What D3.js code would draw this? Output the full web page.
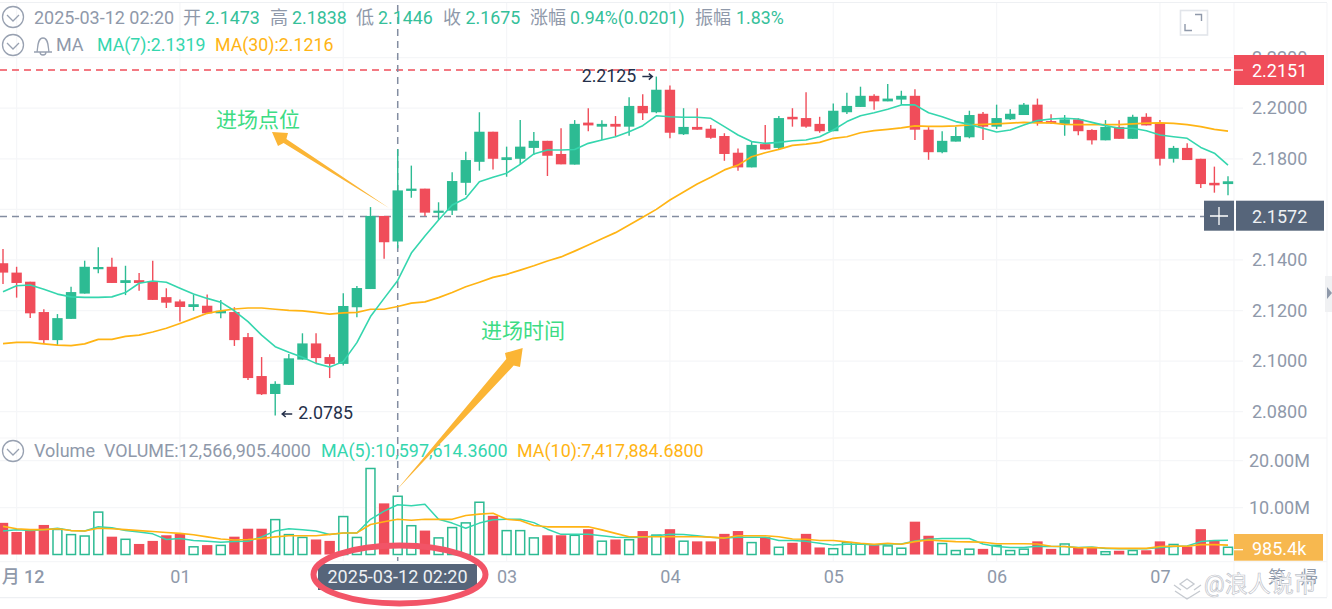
<!DOCTYPE html>
<html lang="zh">
<head>
  <meta charset="UTF-8">
  <title>K线图</title>
  <script src="https://d3js.org/d3.v7.min.js"></script>
  <style>
    html, body { margin: 0; padding: 0; background: #fff; overflow: hidden; }
    svg { display: block; }
    text { font-family: Roboto, "Noto Sans CJK SC", sans-serif; }
    .axis path, .axis line { display: none; }
    .axis text { font-family: Roboto, "Noto Sans CJK SC", sans-serif; font-size: 18px; fill: #8f99aa; }
  </style>
</head>
<body>
<div id="chart"></div>
<script>
  // candles, 5 min each
  const opens = [2.1387,2.1350,2.1314,2.1194,2.1083,2.1167,2.1267,2.1368,2.1373,2.1309,2.1320,2.1316,2.1253,2.1236,2.1214,2.1219,2.1189,2.1194,2.1095,2.0941,2.0870,2.0906,2.1006,2.1070,2.1016,2.0989,2.1213,2.1285,2.1574,2.1473,2.1673,2.1682,2.1587,2.1595,2.1705,2.1788,2.1907,2.1795,2.1800,2.1843,2.1871,2.1819,2.1777,2.1943,2.1927,2.1938,2.1927,2.2009,2.1984,2.2073,2.1897,2.1926,2.1919,2.1890,2.1824,2.1766,2.1858,2.1843,2.1966,2.1961,2.1938,2.1909,2.1984,2.2005,2.2049,2.2027,2.2034,2.2049,2.1915,2.1826,2.1868,2.1885,2.1978,2.1927,2.1956,2.1973,2.2014,2.1949,2.1938,2.1956,2.1914,2.1873,2.1926,2.1879,2.1966,2.1938,2.1800,2.1843,2.1800,2.1705,2.1700];
  const highs = [2.1443,2.1373,2.1314,2.1205,2.1186,2.1294,2.1397,2.1450,2.1409,2.1377,2.1348,2.1397,2.1288,2.1244,2.1263,2.1263,2.1242,2.1213,2.1111,2.1016,2.0920,2.1028,2.1110,2.1110,2.1027,2.1268,2.1297,2.1609,2.1574,2.1838,2.1773,2.1682,2.1628,2.1747,2.1828,2.1984,2.1907,2.1848,2.1953,2.1906,2.1871,2.1921,2.1953,2.2000,2.1952,2.1969,2.2043,2.2055,2.2125,2.2090,2.2000,2.2000,2.1934,2.1901,2.1841,2.1870,2.1934,2.1969,2.2000,2.2063,2.1966,2.2019,2.2061,2.2085,2.2055,2.2096,2.2069,2.2075,2.1925,2.1909,2.1927,2.1990,2.1985,2.2014,2.1996,2.2021,2.2038,2.1976,2.1973,2.1960,2.1917,2.1953,2.1952,2.1974,2.1980,2.1953,2.1851,2.1861,2.1800,2.1769,2.1731];
  const lows = [2.1305,2.1251,2.1170,2.1070,2.1064,2.1167,2.1267,2.1347,2.1309,2.1261,2.1278,2.1242,2.1210,2.1157,2.1199,2.1189,2.1169,2.1060,2.0925,2.0866,2.0785,2.0906,2.1006,2.0991,2.0933,2.0983,2.1173,2.1285,2.1405,2.1446,2.1646,2.1574,2.1558,2.1578,2.1657,2.1753,2.1758,2.1729,2.1775,2.1815,2.1732,2.1778,2.1777,2.1909,2.1874,2.1890,2.1891,2.1953,2.1980,2.1881,2.1894,2.1915,2.1879,2.1792,2.1753,2.1766,2.1837,2.1837,2.1927,2.1923,2.1903,2.1909,2.1977,2.2005,2.1994,2.2027,2.2013,2.1874,2.1796,2.1822,2.1868,2.1881,2.1874,2.1918,2.1953,2.1973,2.1931,2.1938,2.1891,2.1893,2.1856,2.1873,2.1879,2.1879,2.1932,2.1773,2.1785,2.1795,2.1684,2.1666,2.1656];
  const closes = [2.1350,2.1309,2.1189,2.1083,2.1170,2.1273,2.1373,2.1372,2.1309,2.1320,2.1309,2.1242,2.1231,2.1214,2.1225,2.1189,2.1199,2.1083,2.0933,2.0869,2.0910,2.1011,2.1070,2.1012,2.0989,2.1218,2.1289,2.1574,2.1470,2.1675,2.1682,2.1587,2.1595,2.1712,2.1795,2.1907,2.1800,2.1806,2.1848,2.1871,2.1812,2.1778,2.1938,2.1932,2.1938,2.1927,2.2009,2.1980,2.2073,2.1903,2.1926,2.1915,2.1883,2.1819,2.1766,2.1855,2.1837,2.1961,2.1956,2.1927,2.1909,2.1990,2.2009,2.2049,2.2027,2.2038,2.2049,2.1915,2.1826,2.1871,2.1890,2.1973,2.1927,2.1961,2.1978,2.2014,2.1944,2.1944,2.1956,2.1909,2.1873,2.1926,2.1879,2.1966,2.1932,2.1800,2.1843,2.1795,2.1700,2.1695,2.1711];

  const ma7 = [2.1274,2.1298,2.1301,2.1284,2.1265,2.1254,2.1252,2.1252,2.1254,2.1271,2.1308,2.1317,2.1312,2.1288,2.1265,2.1248,2.1233,2.1199,2.1156,2.1103,2.1057,2.1035,2.1015,2.0991,2.0977,2.0998,2.1073,2.1176,2.1248,2.1319,2.1427,2.1495,2.1558,2.1617,2.1644,2.1709,2.1727,2.1743,2.1778,2.1819,2.1835,2.1835,2.1837,2.1861,2.1874,2.1887,2.1907,2.1931,2.1970,2.1966,2.1964,2.1964,2.1960,2.1927,2.1894,2.1868,2.1861,2.1865,2.1871,2.1874,2.1887,2.1914,2.1947,2.1970,2.1982,2.1996,2.2013,2.2013,2.1982,2.1966,2.1947,2.1936,2.1921,2.1906,2.1914,2.1934,2.1951,2.1957,2.1960,2.1957,2.1944,2.1931,2.1921,2.1921,2.1911,2.1894,2.1887,2.1881,2.1845,2.1822,2.1775];
  const ma30 = [2.1069,2.1074,2.1074,2.1068,2.1063,2.1061,2.1068,2.1086,2.1086,2.1098,2.1103,2.1115,2.1130,2.1149,2.1169,2.1189,2.1199,2.1206,2.1210,2.1210,2.1205,2.1201,2.1199,2.1193,2.1186,2.1191,2.1193,2.1205,2.1205,2.1216,2.1229,2.1234,2.1251,2.1271,2.1294,2.1312,2.1331,2.1343,2.1360,2.1377,2.1396,2.1412,2.1435,2.1459,2.1484,2.1508,2.1538,2.1569,2.1600,2.1637,2.1669,2.1700,2.1727,2.1756,2.1775,2.1808,2.1824,2.1837,2.1853,2.1858,2.1865,2.1881,2.1887,2.1903,2.1911,2.1916,2.1922,2.1930,2.1928,2.1928,2.1930,2.1934,2.1936,2.1938,2.1941,2.1944,2.1942,2.1942,2.1936,2.1935,2.1935,2.1935,2.1935,2.1938,2.1941,2.1942,2.1940,2.1935,2.1927,2.1916,2.1909];

  // volume in millions
  const volumes = [6.75,4.8,5.3,6.3,5.5,4.4,4.1,9.2,3.8,3.4,2.25,2.9,4.1,4.4,1.8,2.0,2.1,3.8,5.5,5.5,7.6,4.4,3.8,3.2,2.9,8.25,3.8,18.5,10.9,12.57,6.3,5.1,3.7,5.9,6.9,11.3,8.25,5.25,5.25,3.7,4.1,4.1,4.25,5.4,3.0,3.2,3.3,5.0,4.3,5.4,3.0,2.8,2.8,4.4,5.0,2.7,3.7,1.7,2.5,4.4,1.5,1.4,2.7,2.4,2.0,2.0,1.5,7.0,4.0,2.5,1.0,1.3,1.2,2.1,1.0,1.3,2.8,1.2,2.4,1.5,1.6,0.75,0.8,1.0,0.9,2.8,2.3,1.7,5.4,3.1,1.7];
  const volMa5 = [5.0,5.3,5.1,5.3,5.6,5.1,5.0,5.9,5.7,5.1,4.8,4.4,3.2,3.4,3.0,2.8,2.6,2.75,2.8,3.75,5.0,5.5,5.3,5.0,4.25,4.6,4.6,7.5,9.25,10.6,10.4,10.7,7.5,6.7,5.6,6.7,7.4,7.5,7.5,6.8,5.4,4.3,4.3,4.3,4.0,3.7,3.6,3.7,4.0,4.3,4.25,4.0,3.7,3.5,3.7,3.7,3.7,3.0,3.0,2.8,2.4,2.0,2.2,2.25,2.0,2.25,2.25,2.9,3.25,3.4,3.4,3.4,2.25,1.7,1.5,1.5,1.75,1.7,1.7,1.5,1.6,1.3,1.2,1.2,1.25,1.5,1.7,1.8,2.75,3.0,3.05];
  const volMa10 = [6.0,5.5,5.3,5.3,5.5,5.1,5.0,5.6,5.5,5.3,5.1,4.9,4.7,4.5,4.2,3.75,3.3,3.1,3.2,3.4,3.75,4.0,4.0,4.0,4.3,4.6,4.6,6.4,7.0,7.5,7.3,7.5,7.5,7.5,8.3,8.6,8.8,7.5,7.25,6.2,5.9,5.9,5.9,5.9,5.25,4.5,3.8,3.8,3.8,3.8,3.8,3.8,3.7,3.5,4.0,4.0,4.0,3.8,3.3,3.25,3.0,3.0,2.7,2.4,2.2,2.4,2.2,2.75,3.1,2.9,2.75,2.7,2.6,2.3,2.3,2.3,2.25,1.75,1.7,1.45,1.5,1.4,1.3,1.3,1.3,1.7,1.8,1.75,2.1,2.1,2.0];

  const priceTicks = [2.08,2.10,2.12,2.14,2.16,2.18,2.20,2.22];
  const volumeTicks = [10,20];
  const timeTickIdx = [1,13,25,37,49,61,73,85];
  // "02" sits behind the time tag in the picture, so it gets no text
  const timeLabels = ["月 12","01","","03","04","05","06","07"];

  const GREEN = "#2dbb93", RED = "#f04d5a", TEAL = "#35d6ae", ORANGE = "#ffb414",
        GRAY = "#8f99aa", SLATE = "#56657a", GRID = "#f5f6f8";
  const hoverIdx = 29, highIdx = 48, lowIdx = 20;
  const width = 1332, height = 609;

  const x = d3.scaleLinear().domain([0, 90]).range([3, 1228]);
  const yP = d3.scaleLinear().domain([2.08, 2.20]).range([411.7, 108.2]);
  const yV = d3.scaleLinear().domain([0, 20]).range([554.5, 460.7]);
  const barW = 10.4;

  const svg = d3.select("#chart").append("svg")
    .attr("width", width)
    .attr("height", height);

  // frame + grid
  const grid = svg.append("g").attr("stroke", GRID).attr("stroke-width", 1.2);
  [2.5, 438, 561.7, 597.7].forEach(v => {
    grid.append("line").attr("x1", 0).attr("x2", 1327).attr("y1", v).attr("y2", v)
      .attr("stroke", v === 2.5 || v === 597.7 ? "#eef0f3" : GRID);
  });
  priceTicks.forEach(t => {
    grid.append("line").attr("x1", 0).attr("x2", 1243).attr("y1", yP(t)).attr("y2", yP(t));
  });
  volumeTicks.forEach(t => {
    grid.append("line").attr("x1", 0).attr("x2", 1243).attr("y1", yV(t)).attr("y2", yV(t));
  });
  timeTickIdx.forEach(i => {
    grid.append("line").attr("x1", x(i)).attr("x2", x(i)).attr("y1", 3).attr("y2", 561);
  });
  grid.append("line").attr("x1", 1234).attr("x2", 1234).attr("y1", 3).attr("y2", 597);
  grid.append("line").attr("x1", 1327).attr("x2", 1327).attr("y1", 3).attr("y2", 597);

  // axes
  svg.append("g").attr("class", "axis")
    .attr("transform", "translate(1252,0)")
    .call(d3.axisRight(yP).tickValues(priceTicks).tickSize(0).tickPadding(0).tickFormat(d3.format(".4f")));
  svg.append("g").attr("class", "axis")
    .attr("transform", "translate(1249,0)")
    .call(d3.axisRight(yV).tickValues(volumeTicks).tickSize(0).tickPadding(0).tickFormat(d => d.toFixed(2) + "M"));
  const timeAxis = svg.append("g").attr("class", "axis")
    .attr("transform", "translate(0,570)")
    .call(d3.axisBottom(x).tickValues(timeTickIdx).tickSize(0).tickPadding(0).tickFormat((d, i) => timeLabels[i]));
  timeAxis.selectAll("text").filter((d, i) => i === 0)
    .style("font-weight", 500)
    .attr("dx", 6);

  // crosshair and last price lines
  const lastPrice = 2.2151, crossPrice = 2.1572;
  svg.append("line")
    .attr("x1", 0).attr("x2", 1234).attr("y1", yP(lastPrice)).attr("y2", yP(lastPrice))
    .attr("stroke", RED).attr("stroke-width", 1.5).attr("stroke-dasharray", "7,5");
  svg.append("line")
    .attr("x1", 0).attr("x2", 1204).attr("y1", yP(crossPrice)).attr("y2", yP(crossPrice))
    .attr("stroke", "#838da1").attr("stroke-width", 1.5).attr("stroke-dasharray", "7,5");
  svg.append("line")
    .attr("x1", x(hoverIdx)).attr("x2", x(hoverIdx)).attr("y1", 5).attr("y2", 561)
    .attr("stroke", "#838da1").attr("stroke-width", 1.5).attr("stroke-dasharray", "7,5");

  // volume bars
  svg.append("g").selectAll("rect")
    .data(volumes)
    .enter()
    .append("rect")
    .attr("x", (d, i) => x(i) - barW / 2 + (closes[i] >= opens[i] ? 0.75 : 0))
    .attr("y", (d, i) => yV(d) + (closes[i] >= opens[i] ? 0.75 : 0))
    .attr("width", (d, i) => barW - (closes[i] >= opens[i] ? 1.5 : 0))
    .attr("height", (d, i) => yV(0) - yV(d) - (closes[i] >= opens[i] ? 0.75 : 0))
    .attr("fill", (d, i) => closes[i] >= opens[i] ? "#fff" : RED)
    .attr("stroke", (d, i) => closes[i] >= opens[i] ? GREEN : "none")
    .attr("stroke-width", 1.5);

  const lineOf = (scale, values, color, w) => {
    const line = d3.line().x((d, i) => x(i)).y(d => scale(d));
    svg.append("path")
      .datum(values)
      .attr("fill", "none")
      .attr("stroke", color)
      .attr("stroke-width", w)
      .attr("stroke-linejoin", "round")
      .attr("d", line);
  };
  lineOf(yV, volMa5, TEAL, 1.5);
  lineOf(yV, volMa10, ORANGE, 1.6);

  // candles
  const candles = svg.append("g").selectAll("g")
    .data(opens)
    .enter()
    .append("g");
  candles.append("line")
    .attr("x1", (d, i) => x(i)).attr("x2", (d, i) => x(i))
    .attr("y1", (d, i) => yP(highs[i])).attr("y2", (d, i) => yP(lows[i]))
    .attr("stroke", (d, i) => closes[i] >= opens[i] ? GREEN : RED)
    .attr("stroke-width", 1.4);
  candles.append("rect")
    .attr("x", (d, i) => x(i) - barW / 2)
    .attr("y", (d, i) => yP(Math.max(opens[i], closes[i])))
    .attr("width", barW)
    .attr("height", (d, i) => Math.max(2.2, Math.abs(yP(opens[i]) - yP(closes[i]))))
    .attr("fill", (d, i) => closes[i] >= opens[i] ? GREEN : RED);

  lineOf(yP, ma30, ORANGE, 1.7);
  lineOf(yP, ma7, TEAL, 1.6);

  // high / low marks
  const label = (px, py, str, color, size, anchor, extra) => {
    const t = svg.append("text")
      .attr("x", px).attr("y", py)
      .attr("fill", color)
      .attr("font-size", size)
      .attr("text-anchor", anchor || "start")
      .text(str);
    if (extra) extra(t);
    return t;
  };
  const markArrow = (x0, x1, py) => svg.append("path")
    .attr("d", `M${x0},${py}H${x1}M${x1 + (x1 > x0 ? -3.5 : 3.5)},${py - 3}L${x1},${py}L${x1 + (x1 > x0 ? -3.5 : 3.5)},${py + 3}`)
    .attr("fill", "none").attr("stroke", "#25304a").attr("stroke-width", 1.5);
  label(x(highIdx) - 20, yP(highs[highIdx]) + 5.5, "2.2125", "#25304a", 17.8, "end");
  markArrow(x(highIdx) - 14, x(highIdx) - 4, yP(highs[highIdx]));
  label(x(lowIdx) + 23, yP(lows[lowIdx]) + 4, "2.0785", "#25304a", 17.8);
  markArrow(x(lowIdx) + 17, x(lowIdx) + 7, yP(lows[lowIdx]) - 1.5);

  // price tags
  const tag = (x0, x1, y0, y1, fill) => svg.append("rect")
    .attr("x", x0).attr("y", y0).attr("width", x1 - x0).attr("height", y1 - y0).attr("fill", fill);
  tag(1234, 1324, yP(lastPrice) - 15, yP(lastPrice) + 15, RED);
  svg.append("line").attr("x1", 1234).attr("x2", 1243).attr("y1", yP(lastPrice)).attr("y2", yP(lastPrice)).attr("stroke", "#fff").attr("stroke-width", 1.2);
  label(1252, yP(lastPrice) + 6.5, "2.2151", "#fff", 18);

  tag(1204, 1234, 200.7, 230.7, SLATE);
  tag(1236, 1324, 200.7, 230.7, SLATE);
  svg.append("path").attr("d", "M1210,216H1228M1219,207V225").attr("stroke", "#fff").attr("stroke-width", 1.3).attr("fill", "none");
  label(1252, 222.5, "2.1572", "#eef1f4", 18);

  tag(1234, 1323, 534, 560.7, "#f7b84f");
  svg.append("line").attr("x1", 1234).attr("x2", 1243).attr("y1", 549.7).attr("y2", 549.7).attr("stroke", "#fff").attr("stroke-width", 1.2);
  label(1252, 554.5, "985.4k", "#fff", 18);

  // header rows
  const chevron = (cx, cy) => {
    svg.append("circle").attr("cx", cx).attr("cy", cy).attr("r", 10.5)
      .attr("fill", "none").attr("stroke", "#98a1b1").attr("stroke-width", 1.3);
    svg.append("path").attr("d", `M${cx - 6},${cy - 2}L${cx},${cy + 4}L${cx + 6},${cy - 2}`)
      .attr("fill", "none").attr("stroke", "#98a1b1").attr("stroke-width", 1.3);
  };
  chevron(13, 17);
  chevron(13, 45);
  chevron(13, 451);

  const headerGray = [[34, "2025-03-12 02:20"], [183, "开"], [270, "高"], [356, "低"], [443, "收"], [530, "涨幅"], [695, "振幅"]];
  const headerValues = [[205, "2.1473"], [292, "2.1838"], [378, "2.1446"], [465.5, "2.1675"], [570, "0.94%(0.0201)"], [736, "1.83%"]];
  headerGray.forEach(d => label(d[0], 24, d[1], GRAY, 18));
  headerValues.forEach(d => label(d[0], 24, d[1], "#35c09a", 17.8));

  svg.append("path")
    .attr("d", "M34,52H52M37,52C38,48 37,38 43,38C49,38 48,48 49,52M40,52C40,56 46,56 46,52")
    .attr("fill", "none").attr("stroke", "#98a1b1").attr("stroke-width", 1.3);
  label(56, 51, "MA", GRAY, 18);
  label(97, 51, "MA(7):2.1319", TEAL, 17.8);
  label(215, 51, "MA(30):2.1216", ORANGE, 17.8);

  label(34, 457, "Volume", GRAY, 18);
  label(104, 457, "VOLUME:12,566,905.4000", GRAY, 17.9);
  label(321, 457, "MA(5):10,597,614.3600", TEAL, 17.9);
  label(517, 457, "MA(10):7,417,884.6800", ORANGE, 17.9);

  // fullscreen button
  svg.append("rect").attr("x", 1180.5).attr("y", 10.5).attr("width", 27).attr("height", 24.5)
    .attr("fill", "#fff").attr("stroke", "#e2e5ea").attr("stroke-width", 1.6);
  svg.append("path").attr("d", "M1195,14.5H1201.5V21M1185,24V30.5H1192")
    .attr("fill", "none").attr("stroke", "#8f99aa").attr("stroke-width", 1.4);

  // side handle
  svg.append("rect").attr("x", 1325).attr("y", 276).attr("width", 7).attr("height", 36).attr("fill", "#f0f1f3");
  svg.append("path").attr("d", "M1327,287L1332,293L1327,299Z").attr("fill", "#8f99aa");

  // time tag
  tag(318, 477, 564, 590, SLATE);
  label(397.5, 583, "2025-03-12 02:20", "#eef1f4", 18, "middle");

  // annotations drawn on top of the chart
  svg.append("path")
    .attr("d", "M272,132L288,133L286.4,138.9L389,208L283.6,143.1L278,146Z")
    .attr("fill", "#fbb535");
  svg.append("path")
    .attr("d", "M522.7,348L520,367L513.7,365.6L396.7,490L506.3,359L505,353Z")
    .attr("fill", "#fbb535");
  label(216, 127, "进场点位", "#3ddc84", 21, "start", t => t.attr("font-weight", 400));
  label(481, 338, "进场时间", "#3ddc84", 21, "start", t => t.attr("font-weight", 400));
  svg.append("ellipse")
    .attr("cx", 399.5).attr("cy", 574.5).attr("rx", 86).attr("ry", 29)
    .attr("fill", "none").attr("stroke", "#f25467").attr("stroke-width", 6);

  // corner label and watermark
  label(1268, 584, "筹", GRAY, 18);
  label(1300, 584, "帰", GRAY, 18);
  label(1204, 592, "@浪人说币", "#fff", 23, "start", t => t.attr("stroke", "#bfc4cb").attr("stroke-width", 0.7));
  svg.append("path")
    .attr("d", "M1180,584L1187,579L1194,584L1187,589ZM1174,585L1181,590M1201,585L1194,590M1175,591L1187,599L1200,591")
    .attr("fill", "none").attr("stroke", "#c6cad0").attr("stroke-width", 1.4);
</script>
</body>
</html>
